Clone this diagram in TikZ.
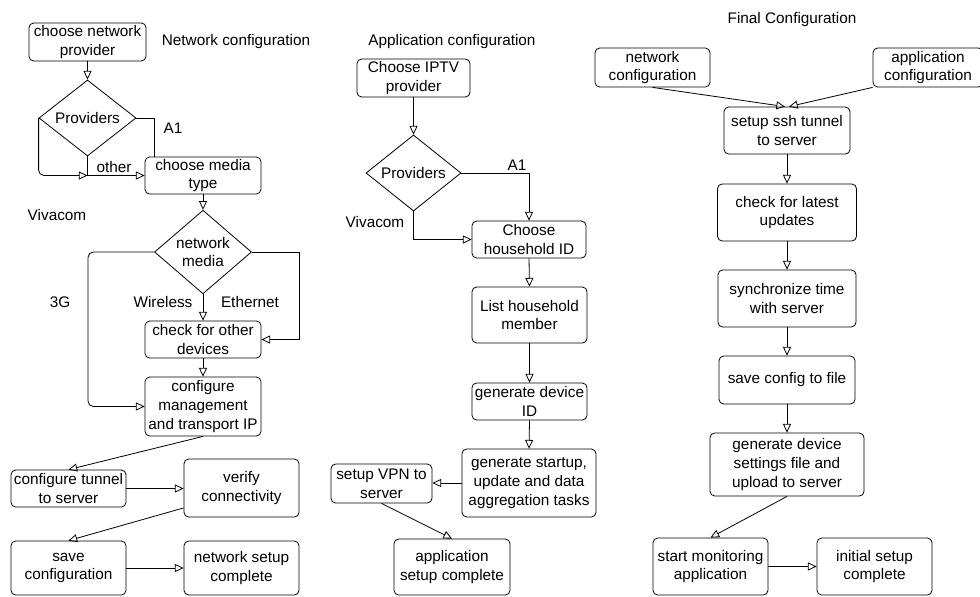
\documentclass[tikz,border=0pt]{standalone}
\usepackage{fontspec}
\setmainfont{Liberation Sans}
\usetikzlibrary{arrows.meta,shapes.geometric}

\tikzset{
  box/.style={draw, rounded corners=3.5pt, align=center, inner sep=1pt},
  decide/.style={draw, diamond, align=center, inner sep=0pt},
  lbl/.style={inner sep=1pt},
  flow/.style={-{Triangle[open,length=6.5pt,width=6pt]}},
}

\begin{document}
\begin{tikzpicture}[x=0.75pt,y=-0.75pt,font=\fontsize{11.5}{14}\selectfont,line width=0.6pt]
\useasboundingbox (0,0) rectangle (980,596);

% network configuration
\node[lbl] (netT) at (236,42) {Network configuration};
\node[box,minimum width=87.75pt,minimum height=28.5pt] (np) at (87.5,42) {choose network\\provider};
\node[decide,minimum width=72.75pt,minimum height=57pt] (prov1) at (87.5,118) {Providers};
\node[box,minimum width=87pt,minimum height=27.75pt] (media) at (203,175.5) {choose media\\type};
\node[decide,minimum width=72.75pt,minimum height=55.5pt] (nm) at (203,252) {network\\media};
\node[box,minimum width=87pt,minimum height=27.75pt] (chk) at (203,339.5) {check for other\\devices};
\node[box,minimum width=87pt,minimum height=44.25pt] (cfg) at (203,406.5) {configure\\management\\and transport IP};
\node[box,minimum width=86.25pt,minimum height=27.75pt] (tun) at (68.5,488.5) {configure tunnel\\to server};
\node[box,minimum width=86.25pt,minimum height=43.5pt] (ver) at (241.5,488) {verify\\connectivity};
\node[box,minimum width=86.25pt,minimum height=40.5pt] (save) at (68.5,568) {save\\configuration};
\node[box,minimum width=86.25pt,minimum height=40.5pt] (nsc) at (241.5,568) {network setup\\complete};

\node[lbl] at (173,128) {A1};
\node[lbl] at (114,167) {other};
\node[lbl] at (57,215) {Vivacom};
\node[lbl] at (60,302) {3G};
\node[lbl] at (163,302) {Wireless};
\node[lbl] at (250,302) {Ethernet};

\coordinate (jn) at (prov1.south |- media.west);
\coordinate (left3g) at (88,252);
\coordinate (rightEth) at (299,252);

\draw[flow] (np) -- (prov1);
\draw (prov1.east) -| ([xshift=7.5pt]media.north west);
\draw[flow,rounded corners=4pt] (prov1.west) |- (jn);
\draw (prov1.south) -- (jn);
\draw[flow] (jn) -- (media.west);
\draw[flow] (media) -- (nm);
\draw[flow,rounded corners=4pt] (nm.west) -- (left3g) |- (cfg.west);
\draw[flow] (nm.east) -- (rightEth) |- (chk.east);
\draw[flow] (nm) -- (chk);
\draw[flow] (chk) -- (cfg);
\draw[flow] (cfg.south) -- (tun.north);
\draw[flow] (tun.east) -- (tun.east -| ver.west);
\draw[flow] (ver.199) -- (save.north);
\draw[flow] (save) -- (nsc);

% application configuration
\node[lbl] (appT) at (452,42) {Application configuration};
\node[box,minimum width=84.75pt,minimum height=28.5pt] (iptv) at (413.5,78) {Choose IPTV\\provider};
\node[decide,minimum width=71.25pt,minimum height=57pt] (prov2) at (413.5,173) {Providers};
\node[box,minimum width=85.5pt,minimum height=27.75pt] (hh) at (529,239.5) {Choose\\household ID};
\node[box,minimum width=86.25pt,minimum height=42pt] (list) at (529.5,315) {List household\\member};
\node[box,minimum width=86.25pt,minimum height=27.75pt] (gid) at (529.5,401.5) {generate device\\ID};
\node[box,minimum width=100.5pt,minimum height=51pt] (gst) at (529,483) {generate startup,\\update and data\\aggregation tasks};
\node[box,minimum width=75.75pt,minimum height=29.25pt] (vpn) at (381.5,483.5) {setup VPN to\\server};
\node[box,minimum width=87pt,minimum height=42pt] (asc) at (452,567) {application\\setup complete};

\node[lbl] at (517,165) {A1};
\node[lbl] at (375,222) {Vivacom};

\draw[flow] (iptv) -- (prov2);
\draw[flow] (prov2.east) -| (hh.north);
\draw[flow] (prov2.south) |- (hh.west);
\draw[flow] (hh.south) -- (list.north);
\draw[flow] (list) -- (gid);
\draw[flow] (gid.south) -- (gst.north);
\draw[flow] (gst.west) -- (gst.west -| vpn.east);
\draw[flow] (vpn.south) -- (asc.north);

% final configuration
\node[lbl] (finT) at (792,20) {Final Configuration};
\node[box,minimum width=86.25pt,minimum height=29.25pt] (ncfg) at (652.5,67.5) {network\\configuration};
\node[box,minimum width=82.5pt,minimum height=29.25pt] (acfg) at (928,67.5) {application\\configuration};
\node[box,minimum width=94.5pt,minimum height=35.25pt] (ssh) at (787,130.5) {setup ssh tunnel\\to server};
\node[box,minimum width=104.25pt,minimum height=42.75pt] (upd) at (787,212.5) {check for latest\\updates};
\node[box,minimum width=103.5pt,minimum height=42.75pt] (sync) at (787,298.5) {synchronize time\\with server};
\node[box,minimum width=102pt,minimum height=36pt] (sav2) at (787,380) {save config to file};
\node[box,minimum width=115.5pt,minimum height=47.25pt] (gds) at (787,464.5) {generate device\\settings file and\\upload to server};
\node[box,minimum width=86.25pt,minimum height=42.75pt] (mon) at (710.5,566.5) {start monitoring\\application};
\node[box,minimum width=86.25pt,minimum height=42.75pt] (isc) at (874.5,566.5) {initial setup\\complete};

\draw[flow] (ncfg.south) -- ([xshift=-1.5pt]ssh.north);
\draw[flow] (acfg.south west) -- ([xshift=1.5pt]ssh.north);
\foreach \a/\b in {ssh/upd,upd/sync,sync/sav2,sav2/gds}
  \draw[flow] (\a) -- (\b);
\draw[flow] (gds.south) -- (mon.north);
\draw[flow] (mon) -- (isc);
\end{tikzpicture}
\end{document}
